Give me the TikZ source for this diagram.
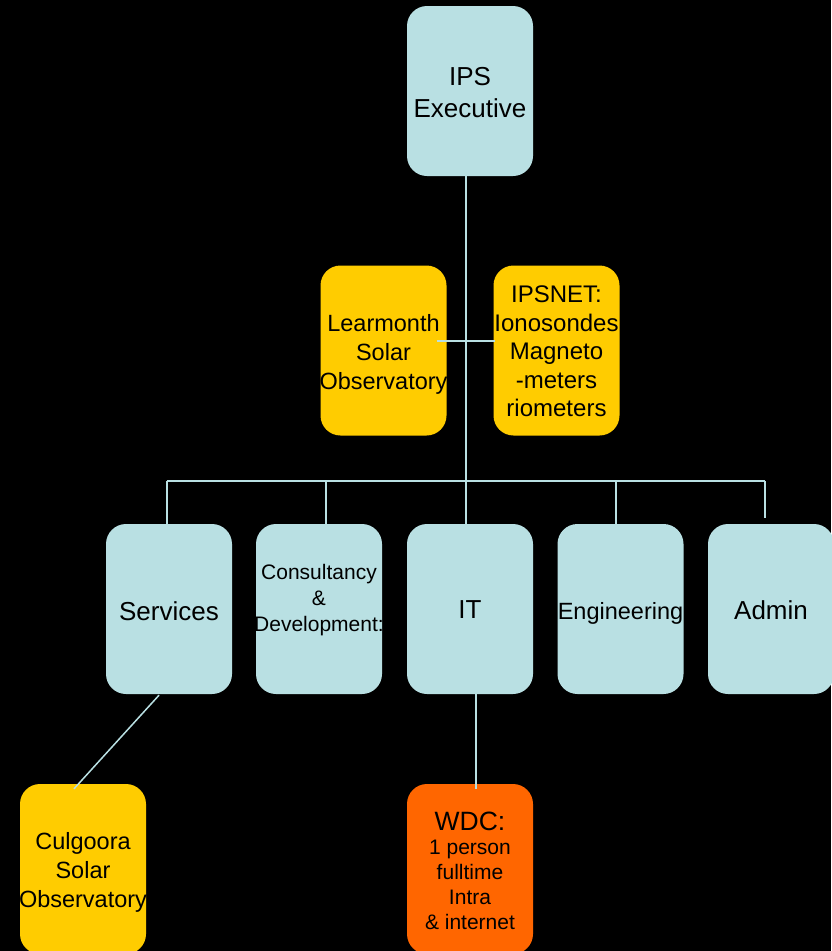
\documentclass[tikz,border=0pt]{standalone}
\usepackage{fontspec}
\setmainfont{Liberation Sans}
\usetikzlibrary{calc}
\definecolor{paleblue}{RGB}{185,224,227}
\definecolor{gold}{RGB}{255,204,0}
\definecolor{tangerine}{RGB}{255,102,0}
\tikzset{
  unit/.style={minimum width=126pt, minimum height=170pt, inner sep=0pt,
    rounded corners=20pt},
  dept/.style={unit, fill=paleblue},
  site/.style={unit, fill=gold},
  wdcbox/.style={unit, fill=tangerine},
  caption/.style={align=center, inner sep=0pt, text=black},
  big/.style={caption, font=\fontsize{26}{32}\selectfont},
  mid/.style={caption, font=\fontsize{23.5}{29}\selectfont},
  small/.style={caption, font=\fontsize{21}{26}\selectfont},
  link/.style={draw=paleblue, line width=1.5pt}
}
\begin{document}
\begin{tikzpicture}[x=1pt, y=-1pt]
  % canvas
  \fill[black] (0,0) rectangle (831,951);
  \useasboundingbox (0,0) rectangle (831,951);

  % executive
  \node[dept, label={[big, yshift=-2pt]center:IPS\\Executive}] (exec) at (470,91) {};

  % observatory / network units beside the trunk
  \node[site, label={[mid, yshift=-4pt]center:Learmonth\\Solar\\Observatory}] (lear) at (383.5,350.5) {};
  \node[site, label={[caption, font=\fontsize{24}{28.5}\selectfont, yshift=-1pt]center:IPSNET:\\Ionosondes\\Magneto\\-meters\\riometers}] (ipsnet) at (556.5,350.5) {};

  % sections
  \node[dept, label={[big, yshift=-2pt]center:Services}] (services) at (169,609) {};
  \node[dept, label={[small, yshift=9pt]center:Consultancy\\\&\\Development:}] (cons) at (319,609) {};
  \node[dept, label={[big, yshift=-1pt]center:IT}] (it) at (470,609) {};
  \node[dept, label={[mid, yshift=-4pt]center:Engineering}] (eng) at (620.5,609) {};
  \node[dept, label={[big, yshift=-1pt]center:Admin}] (admin) at (771,609) {};

  % lower units
  \node[site, label={[mid, yshift=-3pt]center:Culgoora\\Solar\\Observatory}] (culg) at (83,869) {};
  \node[wdcbox, label={[caption, font=\fontsize{21}{25}\selectfont, yshift=-2pt]center:{\fontsize{26.5}{30}\selectfont WDC:}\\[-1pt]1 person\\fulltime\\Intra\\\& internet}] (wdc) at (470,869) {};

  % trunk and bus
  \coordinate (trunk) at (466,481);
  \coordinate (busL) at (167,481);
  \coordinate (busR) at (765,481);
  \coordinate (adminDrop) at (765,518);
  \draw[link] (exec.south -| trunk) -- (it.north -| trunk);
  \draw[link] (busL) -- (busR);
  \draw[link] ($(lear.east)+(-10,-9.5)$) -- ($(ipsnet.west)+(2,-9.5)$);
  \draw[link] (busL) -- (services.north -| busL);
  \draw[link] (cons.north -| 326,0) -- (busL -| 326,0);
  \draw[link] (eng.north -| 616,0) -- (busL -| 616,0);
  \draw[link] (busR) -- (adminDrop);

  % links to the lower units
  \draw[link] ($(services.south)+(-10,1)$) -- ($(culg.north)+(-9,5)$);
  \draw[link] ($(it.south)+(6,0)$) -- ($(wdc.north)+(6,5)$);
\end{tikzpicture}
\end{document}
